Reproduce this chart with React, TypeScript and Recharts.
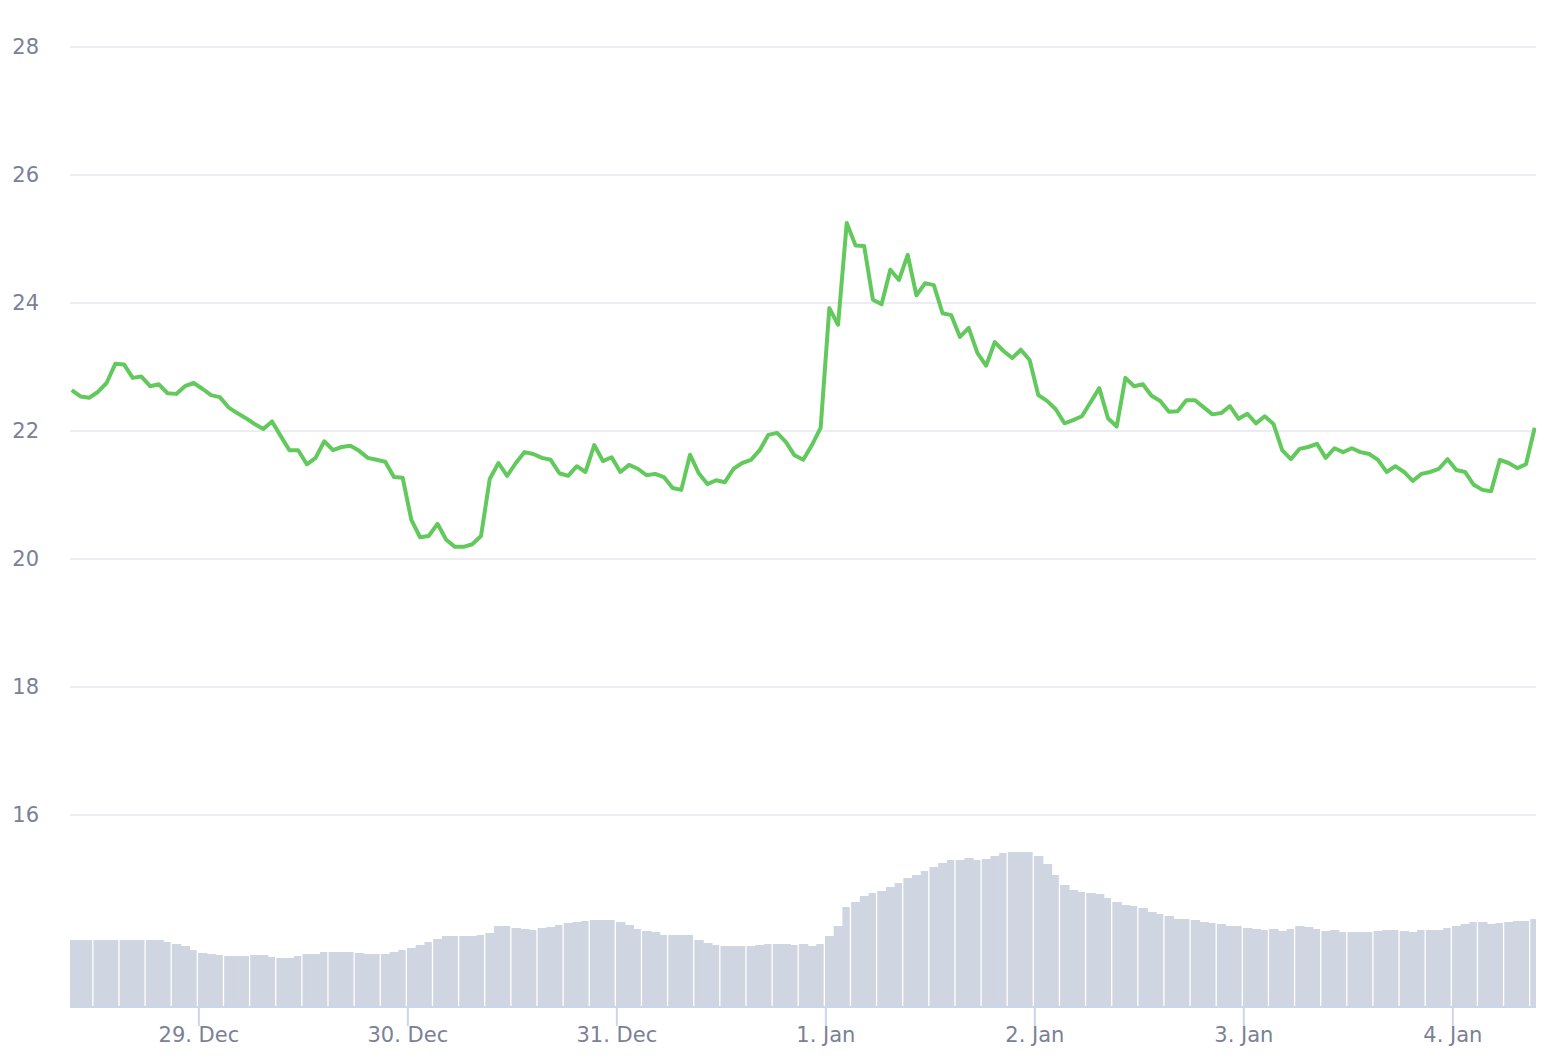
import React from 'react';
import { ComposedChart, Line, Bar, XAxis, YAxis, CartesianGrid } from 'recharts';

// hours after 28 Dec 00:00 of the first sample (hourly samples)
const START_HOUR = 9.4;

const PRICE = [
  22.64, 22.54, 22.52, 22.61, 22.75, 23.05, 23.04, 22.83, 22.85, 22.70,
  22.73, 22.59, 22.58, 22.70, 22.75, 22.66, 22.56, 22.53, 22.37, 22.28,
  22.20, 22.11, 22.03, 22.15, 21.92, 21.70, 21.70, 21.48, 21.58, 21.84,
  21.70, 21.75, 21.77, 21.69, 21.58, 21.55, 21.52, 21.28, 21.27, 20.61,
  20.34, 20.36, 20.55, 20.30, 20.19, 20.19, 20.23, 20.36, 21.25, 21.50,
  21.30, 21.50, 21.67, 21.64, 21.58, 21.55, 21.34, 21.30, 21.45, 21.36,
  21.78, 21.53, 21.59, 21.36, 21.47, 21.41, 21.31, 21.33, 21.28, 21.11,
  21.08, 21.63, 21.34, 21.17, 21.23, 21.20, 21.41, 21.50, 21.55, 21.70,
  21.94, 21.97, 21.83, 21.62, 21.55, 21.78, 22.05, 23.92, 23.66, 25.25,
  24.90, 24.89, 24.05, 23.98, 24.52, 24.36, 24.75, 24.12, 24.31, 24.28,
  23.84, 23.81, 23.47, 23.61, 23.22, 23.02, 23.39, 23.25, 23.14, 23.27,
  23.11, 22.56, 22.47, 22.34, 22.12, 22.17, 22.23, 22.45, 22.67, 22.20,
  22.07, 22.83, 22.70, 22.73, 22.55, 22.47, 22.30, 22.31, 22.48, 22.48,
  22.37, 22.26, 22.28, 22.39, 22.19, 22.27, 22.12, 22.23, 22.11, 21.70,
  21.56, 21.72, 21.75, 21.80, 21.58, 21.73, 21.67, 21.73, 21.67, 21.64,
  21.55, 21.36, 21.45, 21.36, 21.22, 21.33, 21.36, 21.41, 21.56, 21.39,
  21.36, 21.16, 21.08, 21.06, 21.55, 21.50, 21.42, 21.48, 22.05,
];

const VOLUME = [
  67, 67, 67, 67, 67, 67, 67, 67, 67, 67,
  67, 65, 63, 61, 57, 54, 53, 52, 51, 51,
  51, 52, 52, 50, 49, 49, 51, 53, 53, 55,
  55, 55, 55, 54, 53, 53, 53, 55, 57, 59,
  62, 65, 68, 71, 71, 71, 71, 72, 74, 81,
  81, 79, 78, 77, 79, 80, 82, 84, 85, 86,
  87, 87, 87, 85, 82, 78, 76, 75, 72, 72,
  72, 72, 67, 64, 62, 61, 61, 61, 61, 62,
  63, 63, 63, 62, 63, 61, 63, 71, 81, 100,
  105, 111, 114, 116, 120, 124, 129, 132, 136, 140,
  144, 147, 147, 149, 147, 148, 151, 154, 155, 155,
  155, 151, 143, 132, 122, 117, 115, 114, 113, 109,
  105, 102, 101, 99, 95, 93, 91, 88, 88, 87,
  85, 84, 83, 81, 81, 79, 78, 77, 78, 76,
  78, 81, 80, 78, 76, 77, 75, 75, 75, 75,
  76, 77, 77, 76, 75, 77, 77, 77, 79, 81,
  83, 85, 85, 83, 84, 85, 86, 86, 88,
];

const DAY_TICKS = [24, 48, 72, 96, 120, 144, 168];
const DAY_LABELS = ['29. Dec', '30. Dec', '31. Dec', '1. Jan', '2. Jan', '3. Jan', '4. Jan'];
const PRICE_TICKS = [16, 18, 20, 22, 24, 26, 28];

const data = PRICE.map((p, i) => ({ t: START_HOUR + i, price: p, volume: VOLUME[i] }));

const TEXT = '#7a8197';
const FONT = 'DejaVu Sans, Verdana, sans-serif';

const VolBar = (props: any) => {
  const { x, y, width, height, index, fill } = props;
  if (!height || height <= 0) return null;
  const w = index % 3 === 2 ? width - 1.6 : width + 0.4;
  return <rect x={x} y={y} width={Math.max(0, w)} height={height} fill={fill} />;
};

export default function App() {
  return (
    <div style={{ width: 1552, height: 1062, overflow: 'hidden', background: '#fff' }}>
      <style>{'body{margin:0}'}</style>
      <ComposedChart
        width={1552}
        height={1062}
        data={data}
        margin={{ top: 47, right: 16, bottom: 0, left: 0 }}
        barCategoryGap={0}
        barGap={0}
      >
        <CartesianGrid yAxisId="price" vertical={false} stroke="#ececf2" strokeWidth={2} />
        <XAxis
          dataKey="t"
          type="number"
          domain={[9.2, 177.55]}
          allowDataOverflow
          ticks={DAY_TICKS}
          tickFormatter={(v: number) => DAY_LABELS[DAY_TICKS.indexOf(v)] ?? ''}
          height={55}
          axisLine={{ stroke: '#ccd6eb', strokeWidth: 2 }}
          tickLine={{ stroke: '#ccd6eb', strokeWidth: 2 }}
          tickSize={19}
          tickMargin={1}
          tick={{ fill: TEXT, fontSize: 21, fontFamily: FONT }}
        />
        <YAxis
          yAxisId="price"
          domain={[13, 28]}
          ticks={PRICE_TICKS}
          allowDataOverflow
          width={70}
          axisLine={false}
          tickLine={false}
          tickMargin={25}
          tick={{ fill: TEXT, fontSize: 21, fontFamily: FONT }}
        />
        <YAxis yAxisId="vol" hide domain={[0, 960]} allowDataOverflow />
        <Bar
          yAxisId="vol"
          dataKey="volume"
          fill="#d0d5e2"
          isAnimationActive={false}
          shape={VolBar}
        />
        <Line
          yAxisId="price"
          dataKey="price"
          type="linear"
          stroke="#62c95c"
          strokeWidth={4}
          strokeLinejoin="round"
          dot={false}
          activeDot={false}
          isAnimationActive={false}
        />
      </ComposedChart>
    </div>
  );
}
